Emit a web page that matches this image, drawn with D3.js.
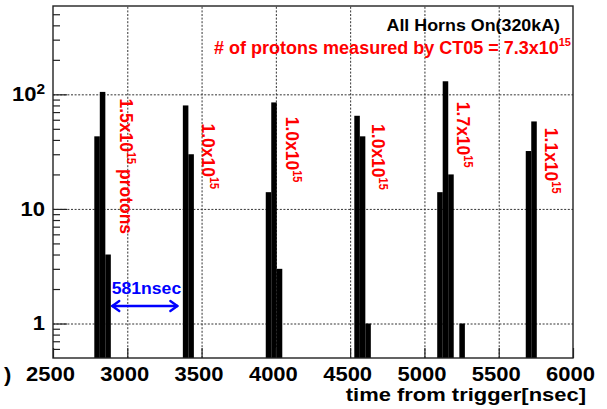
<!DOCTYPE html>
<html>
<head>
<meta charset="utf-8">
<script src="https://cdn.jsdelivr.net/npm/d3@7"></script>
<style>
  body { margin: 0; background: #fff; }
  svg { display: block; }
  text { font-family: "Liberation Sans", Arial, Helvetica, sans-serif; font-weight: bold; }
</style>
</head>
<body>
<svg id="chart" width="607" height="409"></svg>
<script>
// Beam timing histogram: counts per time bin (ns from trigger)
const binWidth = 37.23;
const binStart = [2778, 2815, 2852,
                  3374, 3411,
                  3932, 3969, 4006,
                  4528, 4565, 4602,
                  5086, 5123, 5160, 5235,
                  5682, 5719];
const binCount = [43, 105, 4,
                  80, 30,
                  14, 85, 3,
                  65, 43, 1,
                  14, 130, 20, 1,
                  32, 58];

// Bunch intensities (x10^15 protons) and where each label sits (ns, count)
const bunchIntensity = [1.5, 1.0, 1.0, 1.0, 1.7, 1.1];
const bunchLabelTime = [2948, 3505, 4065, 4644, 5216, 5810];
const bunchLabelTop  = [92, 55.7, 63.7, 55, 86, 51];

// Axis ticks
const xTicks = [2500, 3000, 3500, 4000, 4500, 5000, 5500, 6000];
const xGrid  = [3000, 3500, 4000, 4500, 5000, 5500];
const yTicks = [1, 10, 100];
const yMinor = [0.6, 0.7, 0.8, 0.9, 2, 3, 4, 5, 6, 7, 8, 9,
                20, 30, 40, 50, 60, 70, 80, 90, 200, 300, 400, 500];

// Bunch spacing annotation
const spacingLabel = "581nsec";
const spacingArrow = [2899, 3337];
const spacingArrowY = 1.42;

const svg = d3.select("#chart");
const L = 53, R = 573, T = 6, B = 358;
const x = d3.scaleLinear().domain([2500, 6000]).range([L, R]);
const y = d3.scaleLog().domain([0.5, 590]).range([B, T]);
const SX = 1.1; // glyph widening used for the labels

// grid
const gridStyle = g => g.selectAll("line")
  .attr("stroke", "#333").attr("stroke-width", 1).attr("stroke-dasharray", "2,1.6");
svg.append("g").attr("transform", `translate(0,${B})`)
  .call(d3.axisBottom(x).tickValues(xGrid).tickSize(-(B - T)).tickFormat(""))
  .call(g => g.select(".domain").remove())
  .call(gridStyle);
svg.append("g").attr("transform", `translate(${L},0)`)
  .call(d3.axisLeft(y).tickValues(yTicks).tickSize(-(R - L)).tickFormat(""))
  .call(g => g.select(".domain").remove())
  .call(gridStyle);

// histogram bars
svg.append("g").selectAll("rect")
  .data(binStart.map((s, i) => ({ s, c: binCount[i] })))
  .join("rect")
  .attr("x", d => x(d.s))
  .attr("width", d => x(d.s + binWidth) - x(d.s))
  .attr("y", d => y(d.c))
  .attr("height", d => y(0.5) - y(d.c))
  .attr("fill", "#000");

// frame
svg.append("rect").attr("x", L).attr("y", T).attr("width", R - L).attr("height", B - T)
  .attr("fill", "none").attr("stroke", "#222").attr("stroke-width", 1.4);

// x axis ticks and labels
const xAxis = svg.append("g").attr("transform", `translate(0,${B})`)
  .call(d3.axisBottom(x).tickValues(xTicks).tickSizeInner(-10).tickSizeOuter(0)
        .tickPadding(9).tickFormat(d3.format("d")));
xAxis.select(".domain").remove();
xAxis.selectAll("line").attr("stroke", "#222").attr("stroke-width", 1.2);
xAxis.selectAll("text").attr("font-size", 20).attr("fill", "#000")
  .attr("transform", `translate(-3,0) scale(${SX},1)`);

// y axis ticks
const yMinorAxis = svg.append("g").attr("transform", `translate(${L},0)`)
  .call(d3.axisLeft(y).tickValues(yMinor).tickSizeInner(-7).tickSizeOuter(0).tickFormat(""));
yMinorAxis.select(".domain").remove();
yMinorAxis.selectAll("line").attr("stroke", "#222").attr("stroke-width", 1.2);

const yAxis = svg.append("g").attr("transform", `translate(${L},0)`)
  .call(d3.axisLeft(y).tickValues(yTicks).tickSizeInner(-14).tickSizeOuter(0)
        .tickPadding(8).tickFormat(""));
yAxis.select(".domain").remove();
yAxis.selectAll("line").attr("stroke", "#222").attr("stroke-width", 1.2);
yAxis.selectAll(".tick text")
  .attr("font-size", 20).attr("fill", "#000").attr("text-anchor", "end")
  .attr("transform", `scale(${SX},1)`)
  .attr("x", -8 / SX)
  .each(function (d) {
    const t = d3.select(this);
    const e = Math.round(Math.log10(d));
    if (e < 2) {
      t.text(d3.format("d")(d));
    } else {
      t.text("10");
      t.append("tspan").attr("dy", "-0.55em").attr("font-size", 14).text(e);
    }
  });

// x axis title
svg.append("text")
  .attr("transform", `translate(586,401) scale(1.22,1)`)
  .attr("text-anchor", "end").attr("font-size", 18).attr("fill", "#000")
  .text("time from trigger[nsec]");

// clipped remnant of the y title
svg.append("text")
  .attr("transform", `translate(4,382) scale(${SX},1)`)
  .attr("font-size", 20).attr("fill", "#000").text(")");

// run info
svg.append("text")
  .attr("transform", `translate(560,31) scale(1.05,1)`)
  .attr("text-anchor", "end").attr("font-size", 17).attr("fill", "#000")
  .text("All Horns On(320kA)");

const total = d3.sum(bunchIntensity);
const info = svg.append("text")
  .attr("transform", `translate(571,54)`)
  .attr("text-anchor", "end").attr("font-size", 18).attr("fill", "#ff0000");
info.append("tspan").text(`# of protons measured by CT05 = ${total.toFixed(1)}x10`);
info.append("tspan").attr("dy", -8).attr("font-size", 11).text("15");

// bunch intensity labels, written top to bottom
bunchIntensity.forEach((v, i) => {
  const t = svg.append("text")
    .attr("transform", `translate(${x(bunchLabelTime[i])},${y(bunchLabelTop[i])}) scale(${SX},1) rotate(90)`)
    .attr("font-size", 17.5).attr("fill", "#ff0000");
  t.append("tspan").text(`${v.toFixed(1)}x10`);
  t.append("tspan").attr("dy", -7).attr("font-size", 11).text("15");
  if (i === 0) t.append("tspan").attr("dy", 7).text(" protons");
});

// bunch spacing arrow
const ay = y(spacingArrowY), ax1 = x(spacingArrow[0]), ax2 = x(spacingArrow[1]);
const arrow = svg.append("g").attr("stroke", "#0000ff").attr("stroke-width", 2.4)
  .attr("fill", "none").attr("stroke-linecap", "round").attr("stroke-linejoin", "round");
arrow.append("line").attr("x1", ax1).attr("x2", ax2).attr("y1", ay).attr("y2", ay);
arrow.append("path").attr("d", `M${ax1 + 7},${ay - 5}L${ax1},${ay}L${ax1 + 7},${ay + 5}`);
arrow.append("path").attr("d", `M${ax2 - 7},${ay - 5}L${ax2},${ay}L${ax2 - 7},${ay + 5}`);
svg.append("text")
  .attr("transform", `translate(${ax1 - 0.5},293.5) scale(${SX},1)`)
  .attr("font-size", 16).attr("fill", "#0000ff").text(spacingLabel);
</script>
</body>
</html>
